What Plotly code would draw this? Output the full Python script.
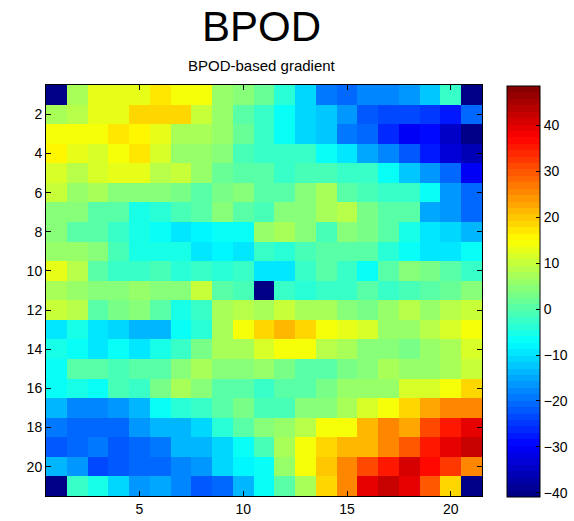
import plotly.graph_objects as go

rows = list(range(1, 22))
cols = list(range(1, 22))

r01 = [-40, 8, 13, 13, 13, 17, 15, 15, 6, 5, 2, -4, -11, -19, -20, -18, -18, -17, -12, -2, -40]
r02 = [7, 9, 13, 13, 18, 18, 19, 10, 6, 0, -2, -7, -11, -12, -17, -22, -24, -24, -25, -27, -21]
r03 = [15, 15, 14, 17, 16, 13, 8, 7, 6, 2, -3, -7, -11, -12, -19, -21, -26, -30, -29, -34, -41]
r04 = [16, 13, 12, 15, 17, 12, 6, 6, 4, -1, -3, -3, -3, -7, -10, -15, -18, -22, -27, -33, -36]
r05 = [11, 9, 11, 13, 13, 9, 10, 6, 2, 0, 0, -3, -1, -1, -2, -3, -7, -12, -17, -20, -30]
r06 = [10, 6, 8, 4, 4, 5, 3, 0, 3, 4, 1, 1, 4, 7, 0, -1, -2, -2, -7, -17, -20]
r07 = [4, 5, 0, 0, -5, -4, -1, 0, 4, 1, -1, 4, 5, 7, 9, 3, 0, 0, -15, -16, -20]
r08 = [4, 1, 1, -3, -5, -7, -10, -8, -7, -6, 6, 7, 4, -1, 4, 3, 0, -5, -9, -11, -13]
r09 = [6, 6, 4, -1, -5, -5, -5, -10, -8, -10, -3, -4, -1, 1, 0, 0, -4, -7, -9, -9, -7]
r10 = [13, 9, 0, -3, -3, -1, -4, -2, -4, -3, -9, -9, -3, 0, -2, -7, 0, 4, 3, 0, -3]
r11 = [8, 6, 5, 5, 6, 4, 5, 10, 1, -1, -41, -2, -4, -3, -2, 1, -2, -1, 1, 2, 5]
r12 = [10, 9, 0, 3, 4, 1, -5, -3, 7, 9, 7, 10, 8, 8, 5, 3, 6, 9, 6, 9, 10]
r13 = [-9, -5, -9, -11, -14, -13, -7, -4, 7, 14, 18, 21, 19, 15, 13, 12, 6, 6, 9, 12, 15]
r14 = [-5, -7, -9, -7, -9, -5, -3, 3, 8, 8, 12, 14, 14, 9, 7, 5, 5, 3, 6, 8, 12]
r15 = [-7, 1, 1, -1, 0, 0, 4, 7, 5, 5, 6, 3, 0, 0, 3, 4, 7, 6, 6, 7, 10]
r16 = [-7, -5, -7, -1, -3, 3, 8, 5, 0, 0, -2, 1, 0, 3, 6, 6, 6, 12, 11, 14, 18]
r17 = [-14, -18, -18, -17, -13, -7, -4, -3, 0, 3, -1, -1, 4, 5, 7, 11, 15, 19, 23, 25, 26]
r18 = [-19, -21, -21, -20, -17, -14, -14, -11, -4, 0, 4, 6, 9, 14, 14, 22, 25, 23, 31, 36, 40]
r19 = [-22, -21, -19, -22, -21, -19, -14, -14, -11, -7, -1, 8, 14, 18, 21, 22, 26, 30, 35, 39, 43]
r20 = [-14, -16, -24, -22, -20, -21, -18, -16, -11, -8, -7, 6, 14, 20, 26, 31, 35, 41, 37, 32, 25]
r21 = [-41, -3, -5, -11, -17, -15, -18, -22, -21, -13, -7, 0, 8, 18, 26, 39, 43, 39, 30, 18, -41]

z = [r01, r02, r03, r04, r05, r06, r07, r08, r09, r10, r11,
     r12, r13, r14, r15, r16, r17, r18, r19, r20, r21]

zmin, zmax = -40.8, 48.7
cbar_ticks = [-40, -30, -20, -10, 0, 10, 20, 30, 40]
x_ticks = [5, 10, 15, 20]
y_ticks = [2, 4, 6, 8, 10, 12, 14, 16, 18, 20]

W, H = 574, 521
L, R, T, B = 46, 92, 85, 25
PW, PH = W - L - R, H - T - B

# MATLAB-like jet(64) discrete colormap
def clip(v):
    return max(0.0, min(1.0, v))

N = 64
scale = []
for i in range(N):
    t = (i + 0.5) / N
    r = clip(1.5 - abs(4 * t - 3))
    g = clip(1.5 - abs(4 * t - 2))
    b = clip(1.5 - abs(4 * t - 1))
    c = f"rgb({round(r*255)},{round(g*255)},{round(b*255)})"
    scale.append([i / N, c])
    scale.append([(i + 1) / N, c])

FONT = "Liberation Sans, Arial"

fig = go.Figure(go.Heatmap(
    z=z, x=cols, y=rows,
    colorscale=scale, zmin=zmin, zmax=zmax,
    colorbar=dict(
        x=(507 - L) / PW, xanchor="left",
        y=1 - (291 - T) / PH, yanchor="middle",
        thickness=33, thicknessmode="pixels",
        len=411, lenmode="pixels",
        outlinewidth=1, outlinecolor="black",
        tickvals=cbar_ticks, ticks="inside", ticklen=4, tickcolor="black",
        tickfont=dict(family=FONT, size=14, color="black"),
        xpad=0, ypad=0,
    ),
))

axis_common = dict(
    showline=True, linecolor="black", linewidth=1, mirror="ticks",
    ticks="inside", ticklen=5, tickcolor="black",
    showgrid=False, zeroline=False,
    tickfont=dict(family=FONT, size=14, color="black"),
)

fig.update_xaxes(range=[0.5, 21.5], tickvals=x_ticks, **axis_common)
fig.update_yaxes(range=[21.5, 0.5], tickvals=y_ticks, **axis_common)

fig.update_layout(
    width=W, height=H,
    margin=dict(l=L, r=R, t=T, b=B, autoexpand=False),
    paper_bgcolor="white", plot_bgcolor="white",
    annotations=[
        dict(text="BPOD", x=(261 - L) / PW, y=1 + (T - 26) / PH,
             xref="paper", yref="paper", xanchor="center", yanchor="middle",
             showarrow=False, font=dict(family=FONT, size=42, color="black")),
        dict(text="BPOD-based gradient", x=(262 - L) / PW, y=1 + (T - 66) / PH,
             xref="paper", yref="paper", xanchor="center", yanchor="middle",
             showarrow=False, font=dict(family=FONT, size=15, color="black")),
    ],
)

fig.write_html("out.html")
